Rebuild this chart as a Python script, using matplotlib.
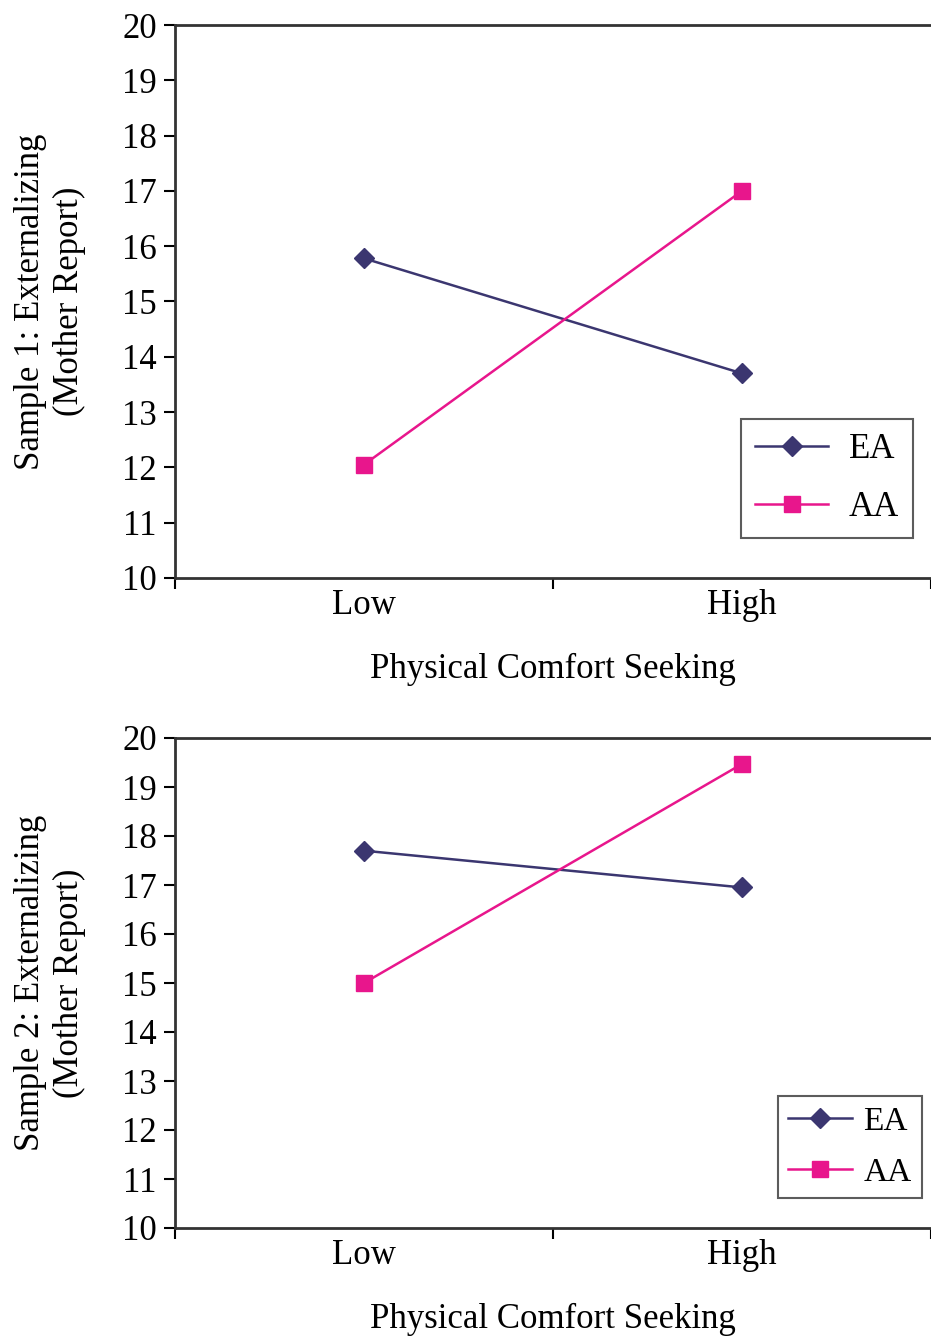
import matplotlib
matplotlib.use("Agg")
from matplotlib import pyplot as plt

plt.rcParams['font.family'] = ['Liberation Serif', 'DejaVu Serif']

levels = ["Low", "High"]
groups = ["EA", "AA"]

sample1_ea = [15.78, 13.70]
sample1_aa = [12.05, 17.00]
sample2_ea = [17.70, 16.95]
sample2_aa = [15.00, 19.47]

y_ticks = list(range(10, 21))

colors = {"EA": "#3b3670", "AA": "#e8168c"}
markers = {"EA": "D", "AA": "s"}

fig = plt.figure(figsize=(9.31, 13.38), dpi=100)

# axes boxes in figure fractions (left, bottom, width, height)
boxes = [
    (175 / 931, 1 - 578 / 1338, 1 - 175 / 931, (578 - 25) / 1338),
    (175 / 931, 1 - 1228 / 1338, 1 - 175 / 931, (1228 - 738) / 1338),
]
legend_pos = [(0.749, 0.072), (0.798, 0.061)]
legend_opts = [
    dict(fontsize=25, labelspacing=0.72, borderpad=0.4, handlelength=2.1,
         handletextpad=0.6),
    dict(fontsize=24, labelspacing=0.62, borderpad=0.3, handlelength=1.9,
         handletextpad=0.35),
]
data = [(sample1_ea, sample1_aa), (sample2_ea, sample2_aa)]
ylabels = ["Sample 1: Externalizing\n(Mother Report)",
           "Sample 2: Externalizing\n(Mother Report)"]

for i, box in enumerate(boxes):
    ax = fig.add_axes(box)
    ea, aa = data[i]
    xs = [0.5, 1.5]
    for name, vals in zip(groups, [ea, aa]):
        ax.plot(xs, vals, color=colors[name], marker=markers[name],
                markersize=11 if name == "AA" else 10, linewidth=1.8,
                label=name, clip_on=False)
    ax.set_xlim(0, 2)
    ax.set_ylim(10, 20)
    ax.set_yticks(y_ticks)
    ax.set_xticks([0, 1, 2])
    ax.set_xticklabels([])
    ax.set_xticks(xs, minor=True)
    ax.set_xticklabels(levels, minor=True)
    ax.tick_params(axis='x', which='minor', length=0, pad=8, labelsize=25)
    ax.tick_params(axis='x', which='major', length=8, width=1.5, direction='out')
    ax.tick_params(axis='y', length=8, width=1.5, direction='out', labelsize=25, pad=5)
    for s in ['left', 'bottom', 'top']:
        ax.spines[s].set_linewidth(2)
        ax.spines[s].set_color('#333333')
    ax.spines['right'].set_visible(False)
    ax.set_ylabel(ylabels[i], fontsize=25, labelpad=26, linespacing=1.22)
    ax.set_xlabel("Physical Comfort Seeking", fontsize=25, labelpad=22)
    leg = ax.legend(loc='lower left', bbox_to_anchor=legend_pos[i],
                    frameon=True, fancybox=False, edgecolor='#333333',
                    borderaxespad=0, **legend_opts[i])
    leg.get_frame().set_linewidth(1.5)

fig.savefig("out.png", dpi=100)
